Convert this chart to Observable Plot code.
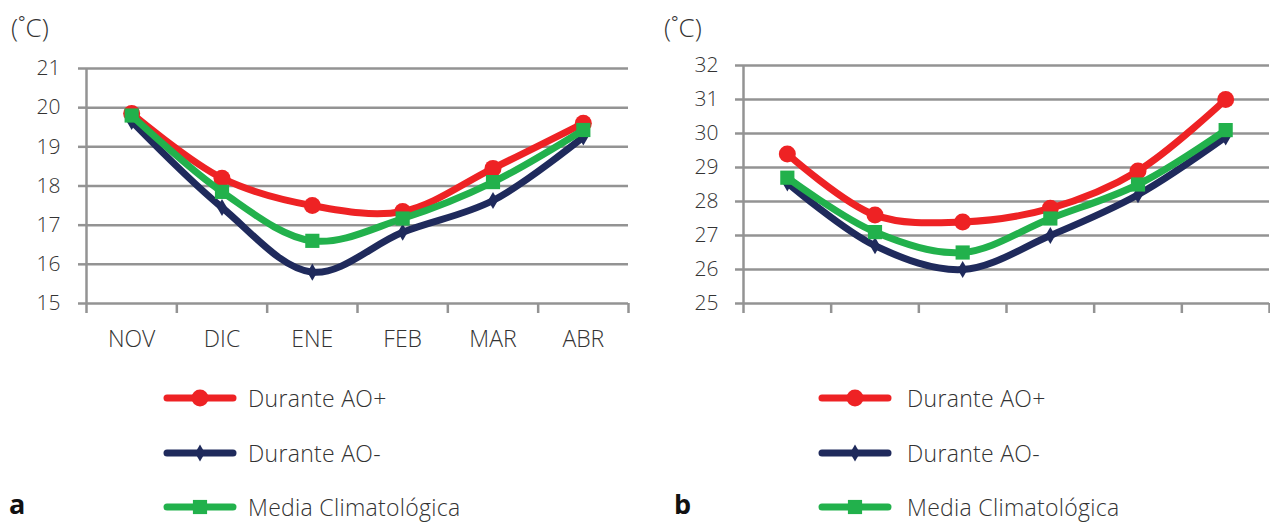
<!DOCTYPE html>
<html><head><meta charset="utf-8">
<script src="https://cdn.jsdelivr.net/npm/d3@7"></script>
<script src="https://cdn.jsdelivr.net/npm/@observablehq/plot@0.6"></script>
<style>
body{margin:0;background:#fff;font-family:"Open Sans",sans-serif;}
#wrap{position:relative;width:1270px;height:524px;overflow:hidden;background:#fff;}
.abs{position:absolute;}
.unit{font-size:26px;color:#333;font-weight:300;line-height:1;}
.leg{font-size:23px;color:#333;font-weight:300;white-space:nowrap;line-height:1;letter-spacing:0.3px;}
.panel{font-size:27px;font-weight:700;color:#111;line-height:1;}
</style></head><body><div id="wrap"></div>
<script>
// ---- data ----
const months = ["NOV", "DIC", "ENE", "FEB", "MAR", "ABR"];
const seriesNames = ["Durante AO+", "Durante AO-", "Media Climatológica"];
const aoPlusA  = [19.85, 18.2, 17.5, 17.35, 18.45, 19.6];
const aoMinusA = [19.65, 17.45, 15.8, 16.82, 17.63, 19.25];
const mediaA   = [19.8, 17.85, 16.6, 17.17, 18.1, 19.43];
const aoPlusB  = [29.4, 27.6, 27.4, 27.8, 28.9, 31.0];
const aoMinusB = [28.55, 26.7, 26.0, 27.0, 28.2, 29.9];
const mediaB   = [28.7, 27.1, 26.5, 27.5, 28.5, 30.1];
const yTicksA = [15, 16, 17, 18, 19, 20, 21];
const yTicksB = [25, 26, 27, 28, 29, 30, 31, 32];

// ---- style ----
const colors = ["#ee2224", "#1f2a5c", "#22b14c"];
const symbols = ["circle", "diamond", "square"];
const radii = [8.5, 5.2, 8];
const gray = "#939393";

const wrap = document.getElementById("wrap");

function chart(valuesList, yTicks, o) {
  const n = months.length;
  const marks = [
    Plot.ruleY(yTicks, {stroke: gray, strokeWidth: 2.5}),
    Plot.axisY(yTicks, {tickSize: 8, tickPadding: o.tickPadding, stroke: gray, strokeWidth: 2.5, fontSize: 21, label: null}),
    Plot.axisX(d3.range(0, n + 1), {tickSize: 10, tickFormat: () => "", stroke: gray, strokeWidth: 2.5, label: null}),
    Plot.ruleX([0], {stroke: gray, strokeWidth: 2.5})
  ];
  if (o.showMonths) {
    marks.push(Plot.axisX(months.map((_, i) => i + 0.5), {tickSize: 0, tickPadding: 27, fontSize: 23, tickFormat: d => months[Math.floor(d)], label: null}));
  }
  valuesList.forEach((vals, k) => {
    const data = vals.map((v, i) => ({i: i + 0.5, v}));
    marks.push(Plot.line(data, {x: "i", y: "v", stroke: colors[k], strokeWidth: 7, curve: "catmull-rom", strokeLinejoin: "round", strokeLinecap: "round"}));
    marks.push(Plot.dot(data, {x: "i", y: "v", fill: colors[k], symbol: symbols[k], r: radii[k], stroke: "none"}));
  });
  const svg = Plot.plot({
    width: o.width, height: 360,
    marginLeft: o.ml, marginRight: o.mr, marginTop: o.mt, marginBottom: 57,
    x: {type: "linear", domain: [0, n]},
    y: {domain: [yTicks[0], yTicks[yTicks.length - 1]]},
    style: "font-family:'Open Sans',sans-serif;font-weight:300;color:#333;background:transparent;overflow:visible;",
    marks
  });
  svg.style.position = "absolute";
  svg.style.left = o.left + "px";
  svg.style.top = "0px";
  wrap.appendChild(svg);
}

chart([aoPlusA, aoMinusA, mediaA], yTicksA, {left: 0, width: 640, ml: 86, mr: 12, mt: 68, tickPadding: 18, showMonths: true});
chart([aoPlusB, aoMinusB, mediaB], yTicksB, {left: 640, width: 630, ml: 103, mr: 1, mt: 65, tickPadding: 17, showMonths: false});

function addText(cls, txt, x, y) {
  const d = document.createElement("div");
  d.className = "abs " + cls;
  d.textContent = txt;
  d.style.left = x + "px";
  d.style.top = y + "px";
  wrap.appendChild(d);
  return d;
}
addText("unit", "(˚C)", 11, 14);
addText("unit", "(˚C)", 664, 14);
addText("panel", "a", 9, 490);
addText("panel", "b", 674, 490);

function legend(x0, tx) {
  const ys = [398, 453, 507];
  seriesNames.forEach((name, k) => {
    const s = document.createElementNS("http://www.w3.org/2000/svg", "svg");
    s.setAttribute("width", 74); s.setAttribute("height", 24);
    s.style.position = "absolute";
    s.style.left = (x0 - 4) + "px";
    s.style.top = (ys[k] - 12) + "px";
    const ln = document.createElementNS(s.namespaceURI, "line");
    ln.setAttribute("x1", 4); ln.setAttribute("x2", 70); ln.setAttribute("y1", 12); ln.setAttribute("y2", 12);
    ln.setAttribute("stroke", colors[k]); ln.setAttribute("stroke-width", 7); ln.setAttribute("stroke-linecap", "round");
    s.appendChild(ln);
    const sym = d3.symbol(k === 0 ? d3.symbolCircle : k === 1 ? d3.symbolDiamond : d3.symbolSquare, Math.PI * radii[k] * radii[k])();
    const p = document.createElementNS(s.namespaceURI, "path");
    p.setAttribute("d", sym); p.setAttribute("fill", colors[k]); p.setAttribute("transform", "translate(37,12)");
    s.appendChild(p);
    wrap.appendChild(s);
    addText("leg", name, tx, ys[k] - 11);
  });
}
legend(167, 248);
legend(822, 907);
</script></body></html>
